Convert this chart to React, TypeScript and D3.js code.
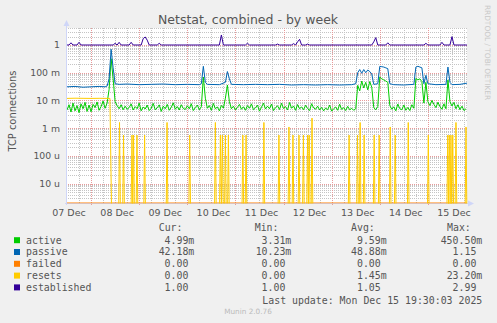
import React from 'react';
import * as d3 from 'd3';

// ---------- data (hours counted from 07 Dec 12:00) ----------
const dayLabels = ['07 Dec', '08 Dec', '09 Dec', '10 Dec', '11 Dec', '12 Dec', '13 Dec', '14 Dec', '15 Dec'];
const yTickValues = [1e-5, 1e-4, 1e-3, 1e-2, 1e-1, 1];
const yTickLabels = ['10 u', '100 u', '1 m', '10 m', '100 m', '1'];

// active connections, hourly samples, in milli-units
const activeMilli = [
  4.5, 7, 3.8, 8, 4.2, 6.5, 3.6, 7.5, 5, 8.5,
  4, 6.8, 3.9, 7.2, 5.5, 8.8, 4.4, 6, 9.5, 5.2,
  8, 25, 320, 60, 9, 6.5, 5, 7, 4.6, 6.2,
  4.8, 5.5, 7.5, 4.5, 6, 5, 8, 4.2, 5.8, 4.9,
  6.8, 4.3, 5.2, 7.8, 4.6, 5.4, 6.9, 4, 6.2, 5,
  7.2, 4.4, 5.6, 8.2, 4.8, 6, 4.5, 7, 5.1, 4.7,
  6.4, 5, 7.6, 4.3, 5.5, 6.8, 4.6, 5.9, 70, 12,
  5.2, 6.5, 4.4, 7.8, 5, 5.8, 4.2, 6.6, 5.3, 12,
  36, 9, 5, 6.2, 4.5, 5.6, 7.2, 4.8, 5.9, 4.4,
  6.5, 5.2, 7.5, 4.6, 5.4, 6.8, 4.1, 5.7, 8, 4.9,
  6.2, 5, 7.4, 4.3, 5.5, 6.4, 4.7, 7.9, 5.1, 6,
  4.5, 8.4, 5.2, 6.3, 4.4, 7.1, 5, 5.8, 4.6, 6.7,
  5.1, 4.3, 7.6, 5.4, 4.8, 6.2, 4.5, 5.6, 4.2, 5.3,
  4.6, 6.8, 4.1, 5, 5.8, 4.4, 7.3, 4.7, 5.5, 4.3,
  6.1, 4.6, 5.2, 4.4, 5, 35, 22, 50, 28, 45,
  24, 48, 30, 5.5, 4.6, 6, 70, 60, 55, 50,
  45, 6.5, 4.8, 5.9, 4.2, 7.4, 5, 4.6, 6.8, 4.4,
  5.6, 4.3, 7, 5.2, 62, 55, 60, 48, 8, 45,
  9, 6.5, 10, 7.2, 5.5, 8.6, 6, 4.8, 7.5, 5,
  55, 9, 6.3, 8.5, 5, 7, 4.6, 6.2, 4.3, 5,
];

// [hour, value]
const passive: [number, number][] = [
  [0, 0.031], [4, 0.032], [8, 0.030], [12, 0.031], [16, 0.032], [19, 0.031], [20, 0.033],
  [21, 0.06], [22, 0.7], [23, 0.15], [24, 0.04], [26, 0.038], [30, 0.039], [36, 0.037],
  [42, 0.038], [48, 0.039], [54, 0.037], [60, 0.038], [66, 0.037], [67, 0.04], [68, 0.17],
  [69, 0.045], [70, 0.038], [76, 0.037], [79, 0.045], [80, 0.11], [81, 0.06], [82, 0.038],
  [88, 0.037], [94, 0.038], [100, 0.037], [106, 0.038], [112, 0.036], [118, 0.037],
  [124, 0.036], [130, 0.037], [136, 0.036], [142, 0.037], [144, 0.04], [145, 0.1],
  [146, 0.13], [147, 0.095], [148, 0.13], [149, 0.1], [150, 0.125], [151, 0.11], [152, 0.09],
  [153, 0.038], [155, 0.04], [156, 0.17], [157, 0.165], [158, 0.16], [159, 0.15], [160, 0.14],
  [161, 0.04], [163, 0.037], [168, 0.036], [173, 0.038], [174, 0.16], [175, 0.17], [176, 0.16],
  [177, 0.15], [178, 0.04], [179, 0.08], [180, 0.04], [184, 0.037], [189, 0.038], [190, 0.16],
  [191, 0.045], [192, 0.037], [196, 0.038], [199.5, 0.042],
];

const failed: [number, number][] = [[0, 0], [199.5, 0]];

const resets: [number, number][] = [
  [0, 0.0118], [4, 0.012], [8, 0.0119], [12, 0.0118], [16, 0.0119], [21.4, 0.0118], [22.2, 0],
  [25.8, 0], [26.2, 0.0016], [26.6, 0],
  [27.8, 0], [28.2, 0.00056], [28.6, 0],
  [32, 0], [32.4, 0.00056], [32.8, 0], [33.2, 0.00056], [33.6, 0],
  [34.5, 0], [34.9, 0.00056], [35.3, 0],
  [38.3, 0], [38.7, 0.00056], [39.1, 0],
  [49.5, 0], [49.9, 0.0016], [50.3, 0],
  [60.8, 0], [61.2, 0.00056], [61.6, 0],
  [73.6, 0], [74, 0.0016], [74.4, 0],
  [76.1, 0], [76.5, 0.00056], [77, 0], [77.5, 0.00056], [77.9, 0],
  [78.6, 0], [79, 0.00056], [79.4, 0],
  [80.1, 0], [80.5, 0.00056], [80.9, 0],
  [87.3, 0], [87.7, 0.00056], [88.1, 0],
  [88.9, 0], [89.3, 0.00056], [89.7, 0],
  [97.8, 0], [98.2, 0.0016], [98.6, 0],
  [105.3, 0], [105.7, 0.00056], [106.1, 0],
  [110.3, 0], [110.7, 0.0011], [111.1, 0],
  [112.3, 0], [112.7, 0.00056], [113.1, 0],
  [115.3, 0], [115.7, 0.00056], [116.1, 0],
  [117.5, 0], [117.9, 0.00056], [118.3, 0],
  [119.6, 0], [120, 0.00056], [120.4, 0], [120.8, 0.00056], [121.2, 0],
  [121.8, 0], [122.2, 0.0023], [122.6, 0],
  [140.3, 0], [140.7, 0.00056], [141.1, 0],
  [144.5, 0], [144.9, 0.00056], [145.3, 0],
  [145.8, 0], [146.2, 0.0016], [146.6, 0],
  [147.8, 0], [148.2, 0.00056], [148.6, 0],
  [152.8, 0], [153.2, 0.00056], [153.6, 0],
  [155.3, 0], [155.7, 0.00056], [156.1, 0],
  [160.8, 0], [161.2, 0.0011], [161.6, 0],
  [163.3, 0], [163.7, 0.00056], [164.1, 0],
  [169.8, 0], [170.2, 0.0016], [170.6, 0],
  [179.8, 0], [180.2, 0.00056], [180.6, 0],
  [189.5, 0], [189.9, 0.00056], [190.3, 0], [190.7, 0.00056], [191.1, 0], [191.5, 0.00056],
  [191.9, 0], [192.4, 0.00056], [192.8, 0],
  [193.6, 0], [194, 0.0016], [194.4, 0],
  [198.6, 0], [199, 0.0011], [199.4, 0],
];

const established: [number, number][] = [
  [0, 1], [1, 1], [2, 1.2], [3, 1], [5, 1], [6, 1.25], [7, 1], [23, 1], [24, 1.15], [25, 1],
  [26, 1.25], [27, 1], [31, 1], [32, 1.25], [33, 1], [37, 1], [38, 1.7], [39, 1.95], [40, 1.5],
  [41, 1], [45, 1], [46, 1.15], [47, 1], [76, 1], [77, 2.3], [78, 1], [89, 1], [90, 1.15],
  [91, 1], [104, 1], [105, 1.08], [106, 1], [112, 1], [113, 1.12], [114, 1], [115, 1.3],
  [116, 1.6], [117, 1], [119, 1], [120, 1.08], [121, 1], [152, 1], [153, 1.3], [154, 1.85],
  [155, 1], [159, 1], [160, 1.2], [161, 1], [178, 1], [179, 1.15], [180, 1], [186, 1],
  [187, 1.25], [188, 1], [191, 1], [192, 2.0], [193, 1], [199.5, 1],
];

const legendNames = ['active', 'passive', 'failed', 'resets', 'established'];
const legendColors = ['#00CC00', '#0066B3', '#FF8000', '#FFCC00', '#330099'];
const curValues = ['4.99m', '42.18m', '0.00', '0.00', '1.00'];
const minValues = ['3.31m', '10.23m', '0.00', '0.00', '1.00'];
const avgValues = ['9.59m', '48.88m', '0.00', '1.45m', '1.05'];
const maxValues = ['450.50m', '1.15', '0.00', '23.20m', '2.99'];

// ---------- layout ----------
const W = 497;
const H = 323;
const X0 = 67;
const X1 = 467;
const Y0 = 28;
const Y1 = 203;
const HOURS = 199.5;

export default function App() {
  const x = d3.scaleLinear().domain([0, HOURS]).range([X0, X1]);
  const y = d3.scaleLog().domain([1.98e-6, 4.11]).range([Y1, Y0]);

  const yv = (v: number, zeroY: number) => (v <= 0 ? zeroY : y(v));
  const mkLine = (zeroY: number) =>
    d3
      .line<[number, number]>()
      .x((d) => x(d[0]))
      .y((d) => yv(d[1], zeroY));

  const activePts: [number, number][] = activeMilli.map((v, i) => [i, v / 1000]);

  const series: { pts: [number, number][]; color: string; zeroY: number }[] = [
    { pts: activePts, color: legendColors[0], zeroY: Y1 + 3 },
    { pts: passive, color: legendColors[1], zeroY: Y1 + 3 },
    { pts: failed, color: legendColors[2], zeroY: Y1 },
    { pts: resets, color: legendColors[3], zeroY: Y1 + 3 },
    { pts: established, color: legendColors[4], zeroY: Y1 + 3 },
  ];

  // grid values
  const minorY: number[] = [];
  for (let e = -6; e <= 0; e++) {
    for (let k = 2; k <= 9; k++) {
      const v = k * Math.pow(10, e);
      if (v >= 1.98e-6 && v <= 4.11) minorY.push(v);
    }
  }
  const sixHours: number[] = [];
  for (let h = 6; h <= HOURS; h += 6) sixHours.push(h);
  const midnights = sixHours.filter((h) => (h - 12) % 24 === 0);
  const minorX = sixHours.filter((h) => (h - 12) % 24 !== 0);
  const noons = dayLabels.map((_, i) => i * 24);

  const gridColor = '#C4C4C4';
  const mgridColor = '#E89A9A';
  const axisColor = '#CFD6F8';
  const fontColor = '#555';

  const mono = '"DejaVu Sans Mono", monospace';
  const sans = '"DejaVu Sans", sans-serif';
  const cw = 5.96;
  const rowY = [243.5, 255.3, 267.1, 278.9, 290.7];
  const colRight = [194.3, 291.3, 386.7, 482.3];
  const colVals = [curValues, minValues, avgValues, maxValues];
  const headers = ['Cur:', 'Min:', 'Avg:', 'Max:'];
  const headerX = [158.7, 254.7, 351, 447];

  return (
    <svg
      width={W}
      height={H}
      viewBox={`0 0 ${W} ${H}`}
      style={{ position: 'absolute', left: 0, top: 0, background: '#F0F0F0' }}
    >
      <defs>
        <pattern id="vdotG" x={0} y={0} width={1} height={2} patternUnits="userSpaceOnUse">
          <rect x={0} y={0} width={1} height={1} fill={gridColor} />
        </pattern>
        <pattern id="hdotG" x={0} y={0} width={2} height={1} patternUnits="userSpaceOnUse">
          <rect x={0} y={0} width={1} height={1} fill={gridColor} />
        </pattern>
        <pattern id="vdotM" x={0} y={0} width={1} height={2} patternUnits="userSpaceOnUse">
          <rect x={0} y={0} width={1} height={1} fill={mgridColor} />
        </pattern>
        <pattern id="hdotM" x={0} y={0} width={2} height={1} patternUnits="userSpaceOnUse">
          <rect x={0} y={0} width={1} height={1} fill={mgridColor} />
        </pattern>
        <clipPath id="plotclip">
          <rect x={X0} y={Y0 - 1} width={X1 - X0 + 1} height={Y1 - Y0 + 1.5} />
        </clipPath>
      </defs>
      <rect x={0} y={0} width={W} height={H} fill="#F0F0F0" />
      <rect x={X0} y={Y0} width={X1 - X0} height={Y1 - Y0} fill="#FFFFFF" />

      {/* minor grid */}
      <g shapeRendering="crispEdges">
        {minorY.map((v, i) => (
          <rect key={'my' + i} x={X0} y={Math.round(y(v))} width={X1 - X0} height={1} fill="url(#hdotG)" />
        ))}
        {minorX.map((h, i) => (
          <rect key={'mx' + i} x={Math.round(x(h))} y={Y0} width={1} height={Y1 - Y0} fill="url(#vdotG)" />
        ))}
        {/* major grid */}
        {yTickValues.map((v, i) => (
          <rect key={'My' + i} x={X0 - 2} y={Math.round(y(v))} width={X1 - X0 + 2} height={1} fill="url(#hdotM)" />
        ))}
        {midnights.map((h, i) => (
          <rect key={'Mx' + i} x={Math.round(x(h))} y={Y0} width={1} height={Y1 - Y0 + 2} fill="url(#vdotM)" />
        ))}
      </g>

      {/* axes */}
      <g shapeRendering="crispEdges">
        <line x1={X0 - 0.5} x2={X0 - 0.5} y1={Y1 + 2} y2={Y0 - 4} stroke={axisColor} />
        <line x1={X0 - 2} x2={X1 + 3} y1={Y1 + 0.5} y2={Y1 + 0.5} stroke={axisColor} />
      </g>
      <path d={`M${X0 - 3.5},${Y0 - 2} L${X0 - 0.5},${Y0 - 8} L${X0 + 2.5},${Y0 - 2} Z`} fill={axisColor} />
      <path d={`M${X1 + 1},${Y1 - 2.5} L${X1 + 7},${Y1 + 0.5} L${X1 + 1},${Y1 + 3.5} Z`} fill={axisColor} />

      {/* series */}
      <g clipPath="url(#plotclip)" fill="none" strokeWidth={1} strokeLinejoin="round">
        {series.map((s, i) => (
          <path key={'s' + i} d={mkLine(s.zeroY)(s.pts) || ''} stroke={s.color} />
        ))}
      </g>

      {/* y tick labels */}
      <g fontFamily={sans} fontSize={9.3} fill={fontColor} textAnchor="end">
        {yTickValues.map((v, i) => (
          <text key={'yl' + i} x={60} y={y(v) + 3.4}>
            {yTickLabels[i]}
          </text>
        ))}
      </g>
      {/* x tick labels */}
      <g fontFamily={sans} fontSize={9.5} fill={fontColor} textAnchor="middle">
        {noons.map((h, i) => (
          <text key={'xl' + i} x={x(h) + 2} y={216}>
            {dayLabels[i]}
          </text>
        ))}
      </g>

      {/* titles */}
      <text x={248} y={23.5} fontFamily={sans} fontSize={12.5} fill={fontColor} textAnchor="middle">
        Netstat, combined - by week
      </text>
      <text
        transform="translate(15.5,111) rotate(-90)"
        fontFamily={sans}
        fontSize={9.9}
        fill={fontColor}
        textAnchor="middle"
      >
        TCP connections
      </text>
      <text
        transform="translate(485,52.5) rotate(90)"
        fontFamily={sans}
        fontSize={7.4}
        fill="#C8C8C8"
        textAnchor="middle"
      >
        RRDTOOL / TOBI OETIKER
      </text>

      {/* legend */}
      <g fontFamily={mono} fontSize={9.9} fill={fontColor}>
        {headers.map((t, i) => (
          <text key={'h' + i} x={headerX[i]} y={230.8}>
            {t}
          </text>
        ))}
        {legendNames.map((n, r) => (
          <g key={'lg' + r}>
            <rect x={14} y={rowY[r] - 6.3} width={6} height={6} fill={legendColors[r]} />
            <text x={26} y={rowY[r]}>
              {n}
            </text>
            {colVals.map((vals, c) => {
              const s = vals[r];
              const hasUnit = /[a-zA-Z]$/.test(s);
              return (
                <text
                  key={'v' + c}
                  x={hasUnit ? colRight[c] : colRight[c] - cw}
                  y={rowY[r]}
                  textAnchor="end"
                >
                  {s}
                </text>
              );
            })}
          </g>
        ))}
        <text x={482.3} y={303.5} textAnchor="end">
          Last update: Mon Dec 15 19:30:03 2025
        </text>
      </g>
      <text x={248} y={314.3} fontFamily={sans} fontSize={7.3} fill="#BBBBBB" textAnchor="middle">
        Munin 2.0.76
      </text>
    </svg>
  );
}
